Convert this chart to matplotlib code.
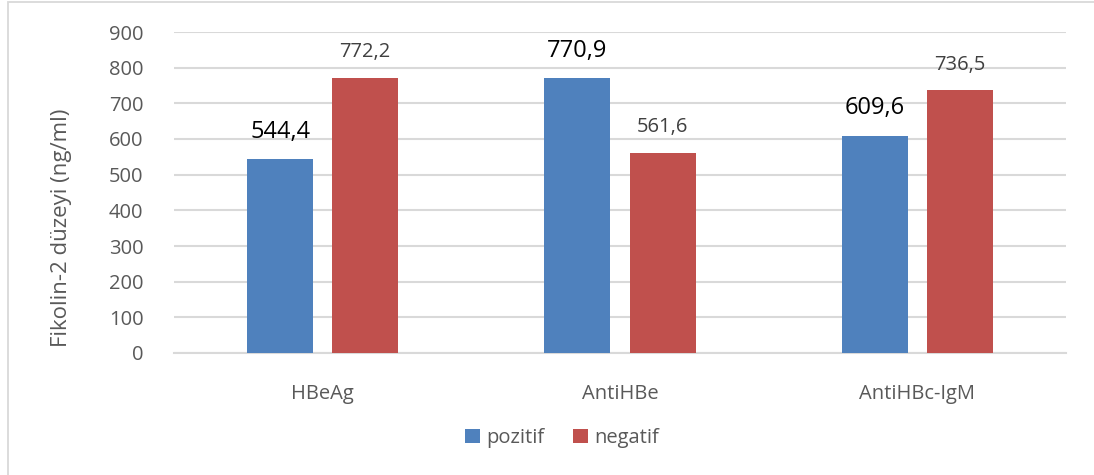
import matplotlib
matplotlib.use("Agg")
import matplotlib.pyplot as plt
import numpy as np
from matplotlib.patches import Rectangle

categories = ["HBeAg", "AntiHBe", "AntiHBc-IgM"]
pozitif = [544.4, 770.9, 609.6]
negatif = [772.2, 561.6, 736.5]
series_names = ["pozitif", "negatif"]
yticks = [0, 100, 200, 300, 400, 500, 600, 700, 800, 900]

plt.rcParams["font.family"] = ["Open Sans", "DejaVu Sans"]

W, H = 1094, 475
fig = plt.figure(figsize=(W / 100, H / 100), dpi=100)
ax = fig.add_axes([174 / W, 1 - 353 / H, (1066 - 174) / W, (353 - 32) / H])

# outer chart frame
fig.patches.append(Rectangle((8 / W, -0.1), 1.2, 1 - 2 / H + 0.1, transform=fig.transFigure,
                             fill=False, edgecolor="#d9d9d9", linewidth=1.3))

blue = "#4f81bd"
red = "#c0504d"
x = np.arange(len(categories))
bw = 0.222
off = 0.143
b1 = ax.bar(x - off, pozitif, bw, color=blue, label=series_names[0], zorder=3)
b2 = ax.bar(x + off, negatif, bw, color=red, label=series_names[1], zorder=3)

ax.set_xlim(-0.5, 2.5)
ax.set_ylim(0, 900)
ax.set_yticks(yticks)
ax.yaxis.grid(True, color="#d9d9d9", linewidth=1.5, zorder=0)
ax.set_axisbelow(True)
for s in ["top", "right", "left"]:
    ax.spines[s].set_visible(False)
ax.spines["bottom"].set_color("#d9d9d9")
ax.spines["bottom"].set_linewidth(1.5)
ax.tick_params(axis="both", length=0, colors="#595959", labelsize=14.5)
ax.tick_params(axis="y", pad=22)
ax.tick_params(axis="x", pad=22)
ax.set_xticks(x)
ax.set_xticklabels(categories)

def fmt(v):
    return f"{v:.1f}".replace(".", ",")

for rect, v in zip(b1, pozitif):
    ax.annotate(fmt(v), (rect.get_x() + rect.get_width() / 2, v), xytext=(0, 11),
                textcoords="offset points", ha="center", va="bottom",
                fontsize=17, color="#000000")
for rect, v in zip(b2, negatif):
    ax.annotate(fmt(v), (rect.get_x() + rect.get_width() / 2, v), xytext=(0, 11),
                textcoords="offset points", ha="center", va="bottom",
                fontsize=14.5, color="#404040")

fig.text(62 / W, 1 - 228 / H, "Fikolin-2 düzeyi (ng/ml)", rotation=90,
         ha="center", va="center", fontsize=16, color="#595959")

leg = fig.legend(handles=[b1, b2], labels=series_names, loc="center",
                 bbox_to_anchor=(562 / W, 1 - 438 / H), ncol=2, frameon=False,
                 fontsize=14.5, handlelength=0.75, handleheight=0.75,
                 handletextpad=0.3, columnspacing=1.4)
for t in leg.get_texts():
    t.set_color("#595959")

fig.savefig("out.png", dpi=100)
